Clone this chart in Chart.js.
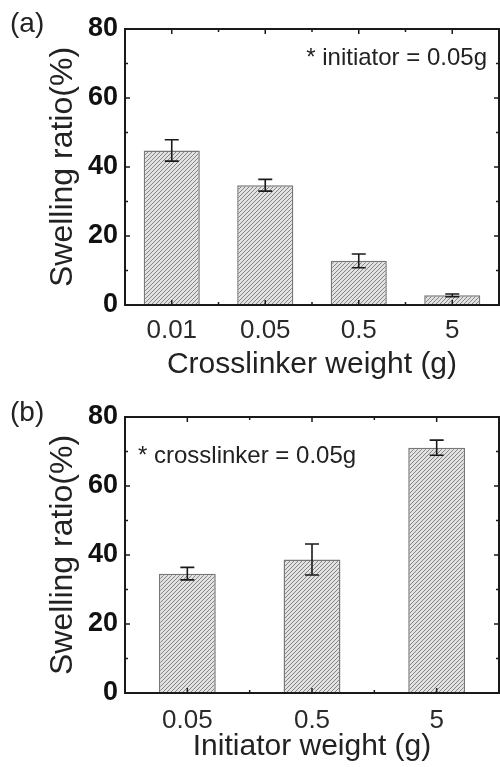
<!DOCTYPE html>
<html>
<head>
<meta charset="utf-8">
<script src="https://cdn.jsdelivr.net/npm/chart.js@4/dist/chart.umd.min.js"></script>
<style>
  html, body { margin: 0; padding: 0; background: #fff; }
  .panel { position: absolute; left: 0; width: 500px; }
  #boxA { top: 0; height: 383px; }
  #boxB { top: 383px; height: 384px; }
</style>
</head>
<body>
<div class="panel" id="boxA"><canvas id="chartA"></canvas></div>
<div class="panel" id="boxB"><canvas id="chartB"></canvas></div>
<script>
// panel (a): crosslinker series
const crosslinkerLabels = ['0.01', '0.05', '0.5', '5'];
const swellingA = [44.8, 34.7, 12.8, 2.8];
const errorA = [3.1, 1.7, 2.0, 0.4];

// panel (b): initiator series
const initiatorLabels = ['0.05', '0.5', '5'];
const swellingB = [34.6, 38.7, 71.1];
const errorB = [1.8, 4.5, 2.2];

const yMax = 80;
const yStep = 20;
const yMinorStep = 10;

const FONT = '"Liberation Sans", Arial, sans-serif';

// diagonal hatch fill for the bars
function hatch() {
    const c = document.createElement('canvas');
    c.width = 4; c.height = 4;
    const g = c.getContext('2d');
    g.fillStyle = '#e2e2e2';
    g.fillRect(0, 0, 4, 4);
    g.strokeStyle = '#858585';
    g.lineWidth = 1;
    g.beginPath();
    g.moveTo(0, 4); g.lineTo(4, 0);
    g.moveTo(-1, 1); g.lineTo(1, -1);
    g.moveTo(3, 5); g.lineTo(5, 3);
    g.stroke();
    return g.createPattern(c, 'repeat');
}

// frame, inward ticks, error bars and text notes
const decor = {
    id: 'decor',
    afterDatasetsDraw(chart, args, opts) {
        const ctx = chart.ctx;
        const x = chart.scales.x, y = chart.scales.y;
        const vals = chart.data.datasets[0].data;
        ctx.save();
        ctx.strokeStyle = '#1a1a1a';
        ctx.lineWidth = 1.6;
        opts.errors.forEach((e, i) => {
            const px = x.getPixelForValue(i);
            const hi = y.getPixelForValue(vals[i] + e);
            const lo = y.getPixelForValue(vals[i] - e);
            ctx.beginPath();
            ctx.moveTo(px, hi); ctx.lineTo(px, lo);
            ctx.moveTo(px - 7, hi); ctx.lineTo(px + 7, hi);
            ctx.moveTo(px - 7, lo); ctx.lineTo(px + 7, lo);
            ctx.stroke();
        });
        ctx.restore();
    },
    afterDraw(chart, args, opts) {
        const ctx = chart.ctx;
        const a = chart.chartArea;
        const x = chart.scales.x, y = chart.scales.y;
        ctx.save();
        ctx.strokeStyle = '#1a1a1a';
        ctx.lineWidth = 2;
        ctx.strokeRect(a.left, a.top, a.right - a.left, a.bottom - a.top);

        ctx.lineWidth = 1.5;
        ctx.beginPath();
        for (let v = 0; v <= yMax; v += yMinorStep) {
            const py = y.getPixelForValue(v);
            const len = v % yStep === 0 ? 5 : 3;
            ctx.moveTo(a.left, py); ctx.lineTo(a.left + len, py);
            ctx.moveTo(a.right, py); ctx.lineTo(a.right - len, py);
        }
        const n = chart.data.labels.length;
        for (let i = 0; i < n; i++) {
            const px = x.getPixelForValue(i);
            ctx.moveTo(px, a.bottom); ctx.lineTo(px, a.bottom - 5);
            ctx.moveTo(px, a.top); ctx.lineTo(px, a.top + 5);
            if (i > 0) {
                const bx = (x.getPixelForValue(i - 1) + px) / 2;
                ctx.moveTo(bx, a.bottom); ctx.lineTo(bx, a.bottom - 3);
                ctx.moveTo(bx, a.top); ctx.lineTo(bx, a.top + 3);
            }
        }
        ctx.stroke();

        ctx.fillStyle = '#222';
        ctx.textBaseline = 'alphabetic';
        ctx.font = '28px ' + FONT;
        ctx.textAlign = 'left';
        ctx.fillText(opts.panel, 10, opts.panelY);

        ctx.font = '24px ' + FONT;
        ctx.textAlign = opts.noteAlign;
        const nx = opts.noteAlign === 'right' ? a.right - 12 : a.left + 13;
        ctx.fillText(opts.note, nx, a.top + opts.noteDy);
        ctx.restore();
    }
};

function makeChart(id, labels, values, errors, cfg) {
    return new Chart(document.getElementById(id), {
        type: 'bar',
        data: {
            labels: labels,
            datasets: [{
                data: values,
                backgroundColor: hatch(),
                borderColor: '#777',
                borderWidth: 1.5,
                barPercentage: cfg.barPct,
                categoryPercentage: 1
            }]
        },
        options: {
            responsive: true,
            maintainAspectRatio: false,
            animation: false,
            layout: { padding: { top: cfg.top, right: 1, left: 0, bottom: 0 } },
            plugins: {
                legend: { display: false },
                tooltip: { enabled: false },
                decor: {
                    errors: errors,
                    panel: cfg.panel,
                    panelY: cfg.panelY,
                    note: cfg.note,
                    noteAlign: cfg.noteAlign,
                    noteDy: cfg.noteDy
                }
            },
            scales: {
                x: {
                    grid: { display: false, drawTicks: false },
                    border: { display: false },
                    afterFit: s => { s.height = cfg.xHeight; },
                    ticks: {
                        padding: cfg.tickPad,
                        color: '#2a2a2a',
                        font: { family: FONT, size: 26, lineHeight: 1.2 }
                    },
                    title: {
                        display: true,
                        text: cfg.xTitle,
                        color: '#222',
                        font: { family: FONT, size: 30, lineHeight: 1 },
                        padding: { top: 0, bottom: cfg.titlePad }
                    }
                },
                y: {
                    min: 0,
                    max: yMax,
                    grid: { display: false, drawTicks: false },
                    border: { display: false },
                    afterFit: s => { s.width = 125; },
                    ticks: {
                        stepSize: yStep,
                        padding: 7,
                        color: '#111',
                        font: { family: FONT, size: 27, weight: 'bold' }
                    },
                    title: {
                        display: true,
                        text: 'Swelling ratio(%)',
                        color: '#222',
                        font: { family: FONT, size: 32, lineHeight: 1 },
                        padding: { top: 47, bottom: 0 }
                    }
                }
            }
        },
        plugins: [decor]
    });
}

makeChart('chartA', crosslinkerLabels, swellingA, errorA, {
    barPct: 0.6, top: 29, xHeight: 78, tickPad: 10, titlePad: 3,
    xTitle: 'Crosslinker weight (g)',
    panel: '(a)', panelY: 32,
    note: '* initiator = 0.05g', noteAlign: 'right', noteDy: 36
});

makeChart('chartB', initiatorLabels, swellingB, errorB, {
    barPct: 0.456, top: 34, xHeight: 74, tickPad: 12, titlePad: 5,
    xTitle: 'Initiator weight (g)',
    panel: '(b)', panelY: 38,
    note: '* crosslinker = 0.05g', noteAlign: 'left', noteDy: 46
});
</script>
</body>
</html>
